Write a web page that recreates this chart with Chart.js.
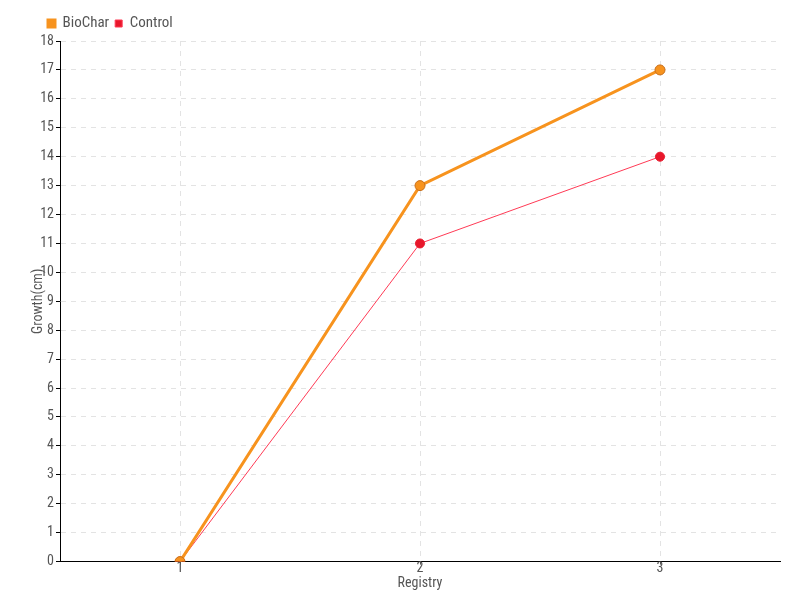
<!DOCTYPE html>
<html>
<head>
<meta charset="utf-8">
<script src="https://cdn.jsdelivr.net/npm/chart.js@4/dist/chart.umd.min.js"></script>
<style>
  html, body { margin: 0; padding: 0; background: #fff; }
  #wrap { width: 800px; height: 600px; }
</style>
</head>
<body>
<div id="wrap"><canvas id="myChart" width="800" height="600"></canvas></div>
<script>
// DATA
var registry = ["1", "2", "3"];
var biochar = [0, 13, 17];
var control = [0, 11, 14];

Chart.defaults.font.family = 'Roboto, "DejaVu Sans", sans-serif';
Chart.defaults.font.weight = 'normal condensed';
Chart.defaults.color = '#555';

// nudge the legend to the right so it lines up like the original
var legendShift = {
  id: 'legendShift',
  afterLayout: function(chart) {
    chart.legend.left += 12;
    chart.legend.right += 12;
  }
};

var ctx = document.getElementById('myChart').getContext('2d');

var chart = new Chart(ctx, {
  type: 'line',
  data: {
    labels: registry,
    datasets: [{
      label: 'BioChar',
      data: biochar,
      borderColor: '#f7931e',
      backgroundColor: '#f7931e',
      borderWidth: 3,
      pointRadius: 5,
      pointBackgroundColor: '#f7931e',
      pointBorderColor: '#c9701c',
      pointBorderWidth: 1,
      tension: 0
    },
    {
      label: 'Control',
      data: control,
      borderColor: '#ff3a55',
      backgroundColor: '#e8172b',
      borderWidth: 1,
      pointRadius: 4.5,
      pointBackgroundColor: '#e8172b',
      pointBorderColor: '#e8172b',
      pointBorderWidth: 1,
      tension: 0
    }]
  },
  plugins: [legendShift],
  options: {
    responsive: false,
    animation: false,
    layout: { padding: { left: 30, right: 20, top: 10, bottom: 10 } },
    plugins: {
      legend: {
        align: 'start',
        labels: {
          boxWidth: 7,
          boxHeight: 7,
          padding: 6,
          color: '#555',
          font: { size: 15 }
        }
      },
      tooltip: { enabled: false }
    },
    scales: {
      x: {
        offset: true,
        border: { display: true, color: '#000', width: 1, dash: [5, 5] },
        grid: {
          offset: false,
          color: '#e3e3e3',
          tickColor: '#555',
          tickBorderDash: [],
          tickLength: 3
        },
        ticks: { padding: 0, font: { size: 14, lineHeight: 0.6 }, color: '#555' },
        title: { display: true, text: 'Registry', padding: { top: 3, bottom: 0 }, font: { size: 14, lineHeight: 1 }, color: '#555' }
      },
      y: {
        min: 0,
        max: 18,
        afterFit: function(axis) { axis.width = 30; },
        border: { display: true, color: '#000', width: 1, dash: [5, 5] },
        grid: {
          color: '#e3e3e3',
          tickColor: '#000',
          tickBorderDash: [],
          tickLength: 4
        },
        ticks: { stepSize: 1, padding: 2, font: { size: 14 }, color: '#555' },
        title: { display: true, text: 'Growth(cm)', padding: 0, font: { size: 14 }, color: '#555' }
      }
    }
  }
});
</script>
</body>
</html>
